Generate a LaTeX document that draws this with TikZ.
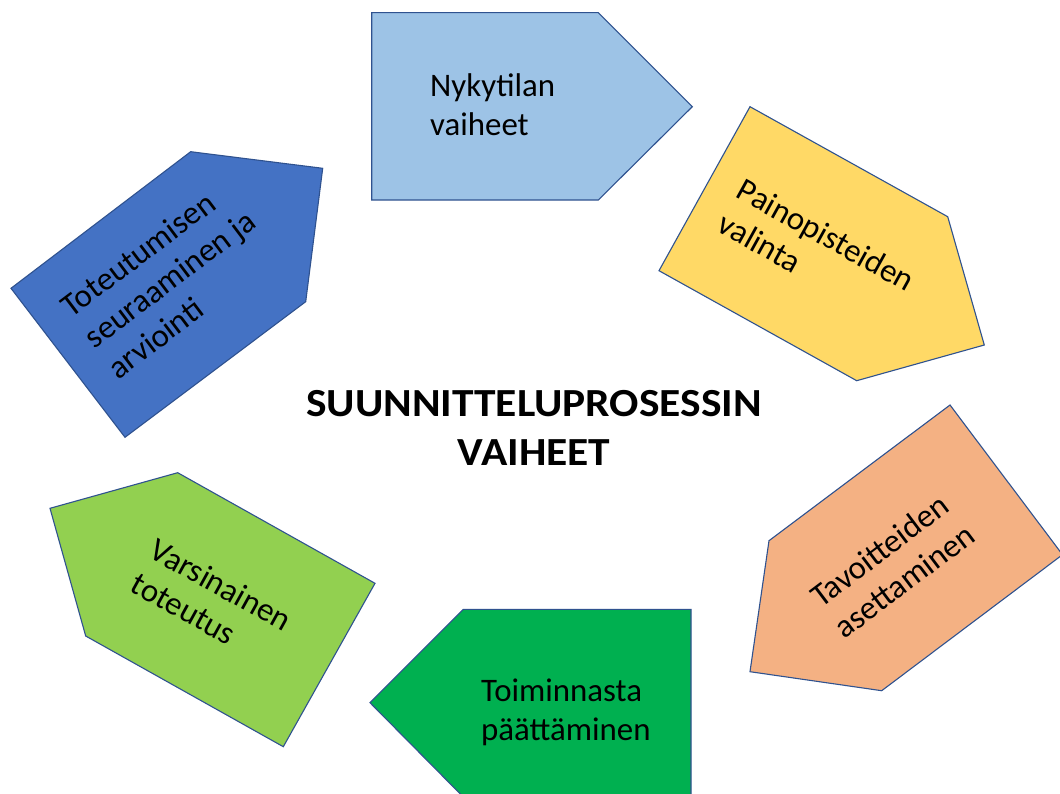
\documentclass[tikz,border=0pt]{standalone}
\usepackage{fontspec}
\setmainfont{Carlito}
\definecolor{edgeblue}{HTML}{2F528F}
\definecolor{skyblue}{HTML}{9DC3E6}
\definecolor{sunyellow}{HTML}{FFD966}
\definecolor{peach}{HTML}{F4B183}
\definecolor{leafgreen}{HTML}{00B050}
\definecolor{limegreen}{HTML}{92D050}
\definecolor{steelblue}{HTML}{4472C4}
\begin{document}
\begin{tikzpicture}[x=1bp,y=-1bp,
  phase/.style={draw=edgeblue, line width=1.1bp, line join=miter},
  lbl/.style={font=\fontsize{33}{39}\selectfont, align=left, inner sep=0pt, anchor=west, text=black},
  heading/.style={font=\fontsize{40}{49}\selectfont\bfseries, align=center, inner sep=0pt, text=black, xscale=1.09}]
  % canvas
  \clip (0,0) rectangle (1060,794);
  \fill[white] (0,0) rectangle (1060,794);

  % the six process steps as rotated pentagon arrows
  \filldraw[phase, fill=skyblue]
    (371.7,12.7) -- (598.3,12.7) -- (692.3,106.7) -- (598.3,200) -- (371.7,200) -- cycle;
  \filldraw[phase, fill=sunyellow]
    (750,106.7) -- (947.7,216.7) -- (984.3,345) -- (856.7,380.7) -- (659,270.7) -- cycle;
  \filldraw[phase, fill=peach]
    (950,405) -- (1062.5,554.7) -- (881.7,690.7) -- (750,671.7) -- (769,540.7) -- cycle;
  \filldraw[phase, fill=leafgreen]
    (463.3,609.3) -- (691,609.3) -- (691,797) -- (463.3,797) -- (370,702.7) -- cycle;
  \filldraw[phase, fill=limegreen]
    (50,508.3) -- (177.7,472.7) -- (375,583.3) -- (283.3,746.7) -- (85.7,636) -- cycle;
  \filldraw[phase, fill=steelblue]
    (190.7,151.7) -- (322.7,168.3) -- (305.7,301.7) -- (125,437.3) -- (11,288.3) -- cycle;

  % step labels
  \node[lbl] (nykytila) at (430,108) {\strut Nykytilan\\vaiheet\strut};
  \node[lbl, rotate=-29] (painopisteet) at (729,207) {\strut Painopisteiden\\valinta\strut};
  \node[lbl, rotate=37] (tavoitteet) at (828,618) {\strut Tavoitteiden\\asettaminen\strut};
  \node[lbl] (paatos) at (481,713) {\strut Toiminnasta\\päättäminen\strut};
  \node[lbl, rotate=-29] (toteutus) at (142,567) {\strut Varsinainen\\toteutus\strut};
  \node[lbl, rotate=37] (arviointi) at (90,343) {\strut Toteutumisen\\seuraaminen ja\\arviointi\strut};

  % centre title
  \node[heading] (otsikko) at (534,431) {\strut SUUNNITTELUPROSESSIN\\VAIHEET\strut};
\end{tikzpicture}
\end{document}
